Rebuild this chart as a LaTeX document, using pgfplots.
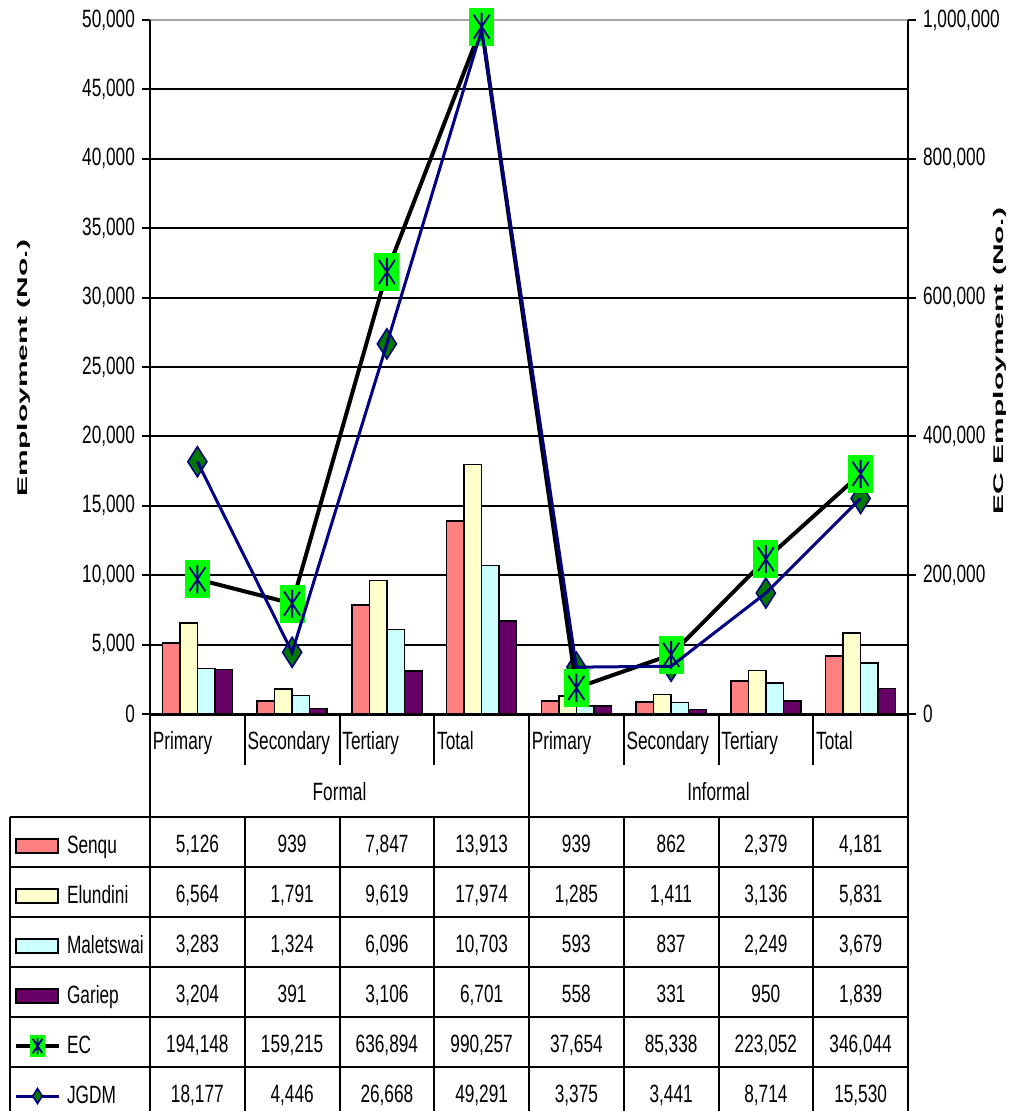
\documentclass[border=0pt]{standalone}
\usepackage{pgfplots}
\pgfplotsset{compat=1.18}
\usepackage{pgfplotstable}
\usepackage{graphicx}
\usepackage{fontspec}
\setmainfont{Liberation Sans}[FakeStretch=0.69]
\newfontfamily\axisfont{Liberation Sans}

\definecolor{senqu}{HTML}{FF8080}
\definecolor{elundini}{HTML}{FFFFCC}
\definecolor{maletswai}{HTML}{CCFFFF}
\definecolor{gariep}{HTML}{660066}
\definecolor{ecgreen}{HTML}{00FF00}
\definecolor{navy}{HTML}{000080}
\definecolor{jgreen}{HTML}{007A00}

% EC marker: green square with a navy asterisk
\pgfdeclareplotmark{ecmark}{%
  \pgfpathrectangle{\pgfqpoint{-6.25pt}{-9.5pt}}{\pgfqpoint{12.5pt}{19pt}}%
  \pgfsetfillcolor{ecgreen}\pgfusepath{fill}%
  \pgfsetstrokecolor{navy}\pgfsetlinewidth{0.9pt}%
  \pgfpathmoveto{\pgfqpoint{0pt}{-7pt}}\pgfpathlineto{\pgfqpoint{0pt}{7pt}}%
  \pgfpathmoveto{\pgfqpoint{-4pt}{-6pt}}\pgfpathlineto{\pgfqpoint{4pt}{6pt}}%
  \pgfpathmoveto{\pgfqpoint{-4pt}{6pt}}\pgfpathlineto{\pgfqpoint{4pt}{-6pt}}%
  \pgfusepath{stroke}}
% JGDM marker: green diamond with navy outline
\pgfdeclareplotmark{jgdmmark}{%
  \pgfpathmoveto{\pgfqpoint{0pt}{7.5pt}}%
  \pgfpathlineto{\pgfqpoint{4.75pt}{0pt}}%
  \pgfpathlineto{\pgfqpoint{0pt}{-7.5pt}}%
  \pgfpathlineto{\pgfqpoint{-4.75pt}{0pt}}%
  \pgfpathclose
  \pgfsetfillcolor{jgreen}\pgfsetstrokecolor{navy}\pgfsetlinewidth{0.8pt}%
  \pgfusepath{fill,stroke}}

\pgfkeys{/pgf/number format/.cd, fixed, precision=0, 1000 sep={,}, assume math mode=true}

\pgfplotstableread{
x   cat       Senqu Elundini Maletswai Gariep EC     JGDM
0.5 Primary   5126  6564     3283      3204   194148 18177
1.5 Secondary 939   1791     1324      391    159215 4446
2.5 Tertiary  7847  9619     6096      3106   636894 26668
3.5 Total     13913 17974    10703     6701   990257 49291
4.5 Primary   939   1285     593       558    37654  3375
5.5 Secondary 862   1411     837       331    85338  3441
6.5 Tertiary  2379  3136     2249      950    223052 8714
7.5 Total     4181  5831     3679      1839   346044 15530
}\datatable

\pgfplotsset{
  barstyle/.style={ybar, bar width=0.185, draw=black, line width=0.8pt,
    legend image code/.code={\draw[##1, line width=1pt] (0pt,-3.5pt) rectangle (21pt,3.5pt);}},
  linekey/.style={legend image code/.code={\draw[mark repeat=2, mark phase=2, ##1]
    plot coordinates {(0pt,0pt) (10.75pt,0pt) (21.5pt,0pt)};}},
  ecstyle/.style={black, line width=2pt, mark=ecmark, sharp plot, linekey,
    legend image post style={mark options={scale=0.6}}},
  jgdmstyle/.style={navy, line width=1.5pt, mark=jgdmmark, sharp plot, linekey,
    legend image post style={mark options={scale=0.5}}},
  frame/.style={set layers, scale only axis, width=379pt, height=347pt,
    at={(75pt,-357pt)}, anchor=south west, xmin=0, xmax=8, clip=false,
    tick align=outside, major tick length=4pt, scaled y ticks=false,
    /pgf/number format/assume math mode=true,
    /pgf/number format/1000 sep={,},
    tick style={black, line width=1pt}},
}

\begin{document}
\begin{tikzpicture}[font=\fontsize{12.5pt}{15pt}\selectfont]

% district bars and JGDM on the left axis
\begin{axis}[frame,
  ymin=0, ymax=50000,
  axis y line*=left, axis x line*=bottom,
  x axis line style={line width=1.5pt, -},
  y axis line style={line width=1pt, -},
  xtick={0,...,7}, xticklabels from table={\datatable}{cat},
  x tick style={draw=none},
  xticklabel style={anchor=base west, inner sep=0pt, xshift=1.25pt, yshift=-13.5pt},
  ytick={0,5000,...,45000},
  extra y ticks={50000},
  extra y tick style={grid style={gray!70, line width=1pt}},
  ymajorgrids, grid style={black, line width=1pt},
  legend cell align=left,
  legend style={at={(axis description cs:-0.17942,-0.15418)}, anchor=north west,
    draw=none, fill=none, inner sep=0pt, outer sep=0pt,
    row sep=0pt, column sep=3pt,
    nodes={inner sep=0pt, minimum height=25pt},
    font=\fontsize{12.5pt}{15pt}\selectfont},
]
\addplot[barstyle, bar shift=-0.2775, fill=senqu] table[x=x, y=Senqu] {\datatable};
\addlegendentry{Senqu}
\addplot[barstyle, bar shift=-0.0925, fill=elundini] table[x=x, y=Elundini] {\datatable};
\addlegendentry{Elundini}
\addplot[barstyle, bar shift=0.0925, fill=maletswai] table[x=x, y=Maletswai] {\datatable};
\addlegendentry{Maletswai}
\addplot[barstyle, bar shift=0.2775, fill=gariep] table[x=x, y=Gariep] {\datatable};
\addlegendentry{Gariep}
\addlegendimage{ecstyle}
\addlegendentry{EC}
\addplot[jgdmstyle, on layer=axis foreground] table[x=x, y=JGDM] {\datatable};
\addlegendentry{JGDM}
\end{axis}

% Eastern Cape totals on the right axis
\begin{axis}[frame,
  ymin=0, ymax=1000000,
  axis x line=none, axis y line*=right,
  y axis line style={line width=1pt, -},
  ytick={0,200000,...,1000000},
]
\addplot[ecstyle] table[x=x, y=EC] {\datatable};
\end{axis}

% axis titles and the data table under the chart
\begin{scope}[x=0.5pt,y=-0.5pt, line width=1pt]
  \node[rotate=90, anchor=base, inner sep=0pt] at (27,368)
    {\axisfont\bfseries\fontsize{7pt}{8pt}\selectfont\scalebox{2.14}[1]{Employment (No.)}};
  \node[rotate=90, anchor=base west, inner sep=0pt] at (1003,515)
    {\axisfont\bfseries\fontsize{7pt}{8pt}\selectfont\scalebox{2.14}[1]{EC Employment (No.)}};

  \foreach \c in {244.75,339.5,434.25,623.75,718.5,813.25} {
    \draw (\c,714) -- (\c,765);
    \draw (\c,817) -- (\c,1116);
  }
  \draw (529,714) -- (529,1116);
  \draw (150,714) -- (150,1116);
  \draw (908,714) -- (908,1116);
  \draw (10,817) -- (10,1116);
  \foreach \r in {0,...,5} \draw (10,817+50*\r) -- (908,817+50*\r);

  \node[anchor=base, inner sep=0pt] at (339.5,800) {Formal};
  \node[anchor=base, inner sep=0pt] at (718.5,800) {Informal};

  \foreach \col [count=\r from 0] in {Senqu,Elundini,Maletswai,Gariep,EC,JGDM} {
    \foreach \c in {0,...,7} {
      \pgfplotstablegetelem{\c}{\col}\of\datatable
      \node[anchor=base, inner sep=0pt] at ({197.375+94.75*\c},{852.5+50*\r})
        {\pgfmathprintnumber{\pgfplotsretval}};
    }
  }
\end{scope}

% page extent
\pgfresetboundingbox
\path[use as bounding box] (0pt,0pt) rectangle (508pt,-555.5pt);
\end{tikzpicture}
\end{document}
